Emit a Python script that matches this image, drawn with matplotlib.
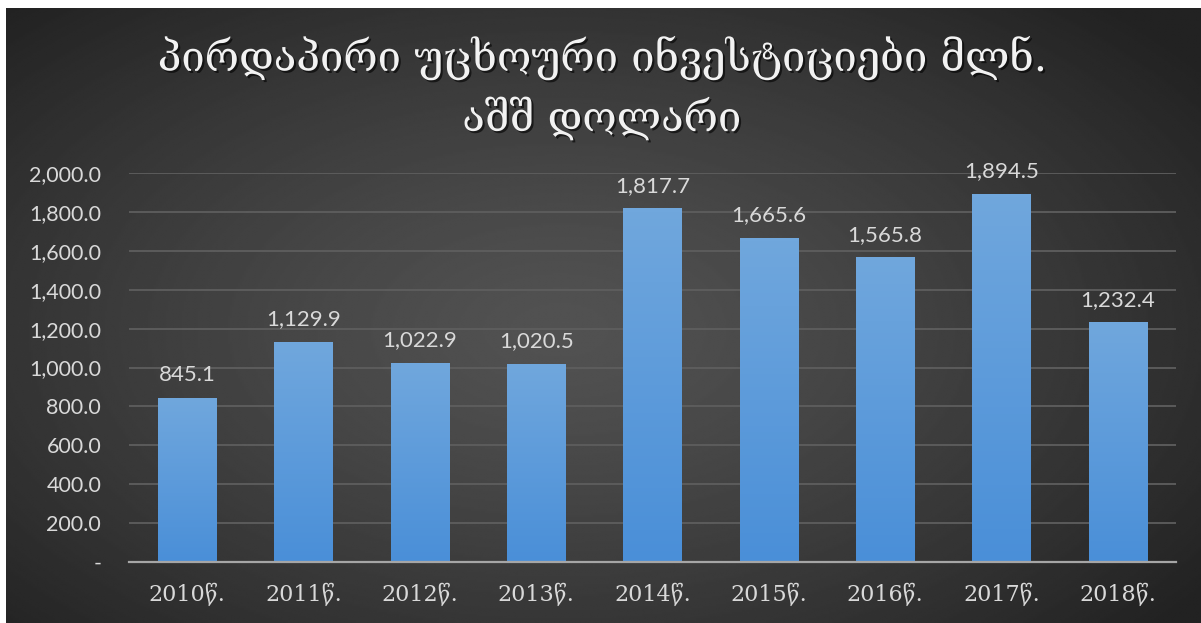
import matplotlib
matplotlib.use('Agg')
import matplotlib.pyplot as plt
import matplotlib.patheffects as pe
from matplotlib.colors import LinearSegmentedColormap
from matplotlib.ticker import FuncFormatter
import numpy as np

# პირდაპირი უცხოური ინვესტიციები, მლნ. აშშ დოლარი
years = ['2010წ.', '2011წ.', '2012წ.', '2013წ.', '2014წ.',
         '2015წ.', '2016წ.', '2017წ.', '2018წ.']
fdi = [845.1, 1129.9, 1022.9, 1020.5, 1817.7, 1665.6, 1565.8, 1894.5, 1232.4]
title = 'პირდაპირი უცხოური ინვესტიციები მლნ.\nაშშ დოლარი'

num_font = ['Lato', 'DejaVu Sans']
geo_font = ['DejaVu Serif', 'DejaVu Sans']
txt_color = '#d9d9d9'

W, H = 1201, 623
fig = plt.figure(figsize=(W / 100, H / 100), dpi=100, facecolor='white')

# tamna radialuri pozadina
bg = fig.add_axes([6 / W, 0, (W - 6) / W, (H - 8) / H])
bg.set_axis_off()
xx, yy = np.meshgrid(np.linspace(6, W, 600), np.linspace(8, H, 310))
r = np.sqrt(((xx - 560) / 800) ** 2 + ((yy - 330) / 450) ** 2)
val = 82 - 48 * np.clip(r, 0, 1) ** 1.3
bg.imshow(val, cmap='gray', vmin=0, vmax=255, aspect='auto',
          extent=[0, 1, 0, 1], interpolation='bilinear')
bg.set_xlim(0, 1)
bg.set_ylim(0, 1)

ax = fig.add_axes([129 / W, (H - 562) / H, (1176 - 129) / W, (562 - 173) / H])
ax.set_facecolor('none')

x = np.arange(len(years))
bars = ax.bar(x, fdi, width=0.5, color='#5b9bd5', zorder=3)

blue = LinearSegmentedColormap.from_list('bl', ['#4a8fd8', '#70a7dd'])
grad = np.linspace(0, 1, 100).reshape(-1, 1)
for b in bars:
    b.set_path_effects([pe.SimplePatchShadow(offset=(0, 0), shadow_rgbFace='black', alpha=0.5),
                        pe.Normal()])
    x0, w, h = b.get_x(), b.get_width(), b.get_height()
    im = ax.imshow(grad, cmap=blue, aspect='auto', origin='lower',
                   extent=[x0, x0 + w, 0, h], zorder=4)
    im.set_clip_path(b)

for xi, v in zip(x, fdi):
    ax.annotate(f'{v:,.1f}', (xi, v), xytext=(0, 12), textcoords='offset points',
                ha='center', va='baseline', fontsize=16, color=txt_color,
                family=num_font, zorder=5, annotation_clip=False)

ax.set_xlim(-0.5, len(years) - 0.5)
ax.set_ylim(0, 2000)
ax.set_yticks(np.arange(0, 2001, 200))
ax.yaxis.set_major_formatter(FuncFormatter(lambda v, p: '-' if v == 0 else f'{v:,.1f}'))
ax.set_xticks(x)
ax.set_xticklabels(years, family=geo_font, fontsize=16, color=txt_color)
for lab in ax.get_yticklabels():
    lab.set_family(num_font)
    lab.set_fontsize(15.5)
    lab.set_color(txt_color)
ax.tick_params(axis='y', length=0, pad=20)
ax.tick_params(axis='x', length=0, pad=15)

ax.grid(axis='y', color='#5e5e5e', lw=1.3, zorder=1)
for s in ['top', 'right', 'left']:
    ax.spines[s].set_visible(False)
ax.spines['bottom'].set_color('#a6a6a6')
ax.spines['bottom'].set_linewidth(1.6)
ax.spines['bottom'].set_zorder(6)

fig.text(0.501, (H - 88) / H, title, ha='center', va='center', fontsize=30,
         family=geo_font, color='#f2f2f2', linespacing=1.45,
         path_effects=[pe.withSimplePatchShadow(offset=(1.5, -1.5), shadow_rgbFace='black', alpha=0.6)])

fig.savefig('out.png', dpi=100, facecolor='white')
